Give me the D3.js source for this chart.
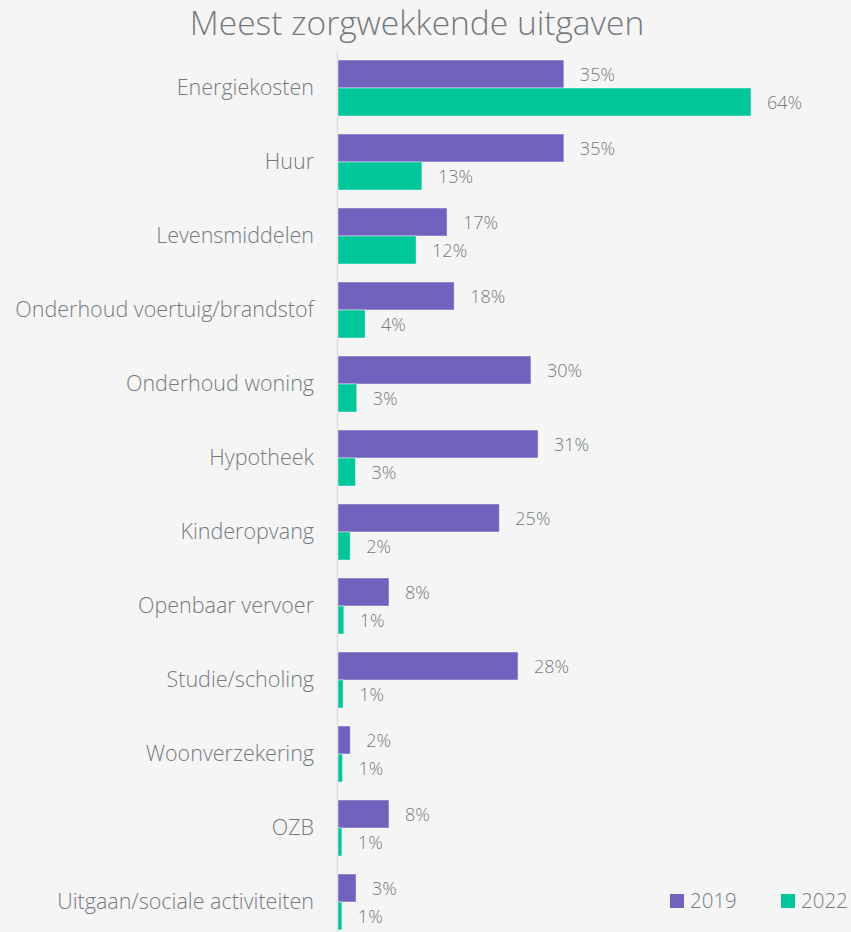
<!DOCTYPE html>
<html>
<head>
<meta charset="utf-8">
<script src="https://cdn.jsdelivr.net/npm/d3@7"></script>
<style>
  body { margin: 0; background: #f5f5f5; }
  text { font-family: "Open Sans", sans-serif; fill: #757a7d; }
</style>
</head>
<body>
<div id="chart"></div>
<script>
"use strict"

const categories = ["Energiekosten", "Huur", "Levensmiddelen", "Onderhoud voertuig/brandstof",
  "Onderhoud woning", "Hypotheek", "Kinderopvang", "Openbaar vervoer", "Studie/scholing",
  "Woonverzekering", "OZB", "Uitgaan/sociale activiteiten"]
const series = ["2019", "2022"]
const values2019 = [35, 35, 17, 18, 30, 31, 25, 8, 28, 2, 8, 3]
const values2022 = [64, 13, 12, 4, 3, 3, 2, 1, 1, 1, 1, 1]
const bars2019 = [35, 35, 16.9, 18, 29.9, 31, 25, 7.9, 27.9, 1.9, 7.9, 2.8]
const bars2022 = [64, 13, 12.1, 4.2, 2.9, 2.7, 1.9, 0.9, 0.8, 0.7, 0.6, 0.6]
const colors = ["#7062bd", "#00c69a"]

const width = 851, height = 932
const margin = {top: 51, left: 338}

const svg = d3.select("#chart")
  .append("svg")
  .attr("width", width)
  .attr("height", height)

svg.append("rect").attr("width", width).attr("height", height).attr("fill", "#f5f5f5")

svg.append("text")
  .attr("x", 417)
  .attr("y", 35)
  .attr("text-anchor", "middle")
  .style("font-size", "33.5px")
  .style("font-weight", 300)
  .text("Meest zorgwekkende uitgaven")

const x = d3.scaleLinear()
  .domain([0, 64])
  .range([margin.left, 751])

const y = d3.scaleBand()
  .domain(categories)
  .range([margin.top, margin.top + 74 * categories.length])
  .paddingInner(18 / 74)
  .paddingOuter(9 / 74)

const sub = d3.scaleBand()
  .domain(series)
  .range([0, y.bandwidth()])

// axis line
svg.append("line")
  .attr("x1", x(0) - 0.5).attr("x2", x(0) - 0.5)
  .attr("y1", 52).attr("y2", height)
  .attr("stroke", "#dcdcdc")
  .attr("stroke-width", 1.5)

const yAxis = svg.append("g")
  .attr("transform", "translate(" + (x(0) - 24) + ",0)")
  .call(d3.axisLeft(y).tickSize(0).tickPadding(0))
yAxis.select(".domain").remove()
yAxis.selectAll("text")
  .style("font-size", "21.5px")
  .style("font-weight", 300)
  .attr("fill", "#757a7d")

const groups = [
  {name: "2019", bars: bars2019, labels: values2019, color: colors[0]},
  {name: "2022", bars: bars2022, labels: values2022, color: colors[1]}
]

groups.forEach(gr => {
  svg.append("g")
    .selectAll("rect")
    .data(categories)
    .join("rect")
      .attr("x", x(0))
      .attr("y", c => y(c) + sub(gr.name))
      .attr("width", (c, i) => x(gr.bars[i]) - x(0))
      .attr("height", sub.bandwidth())
      .attr("fill", gr.color)
      .attr("stroke", "rgba(255,255,255,0.45)")
      .attr("stroke-width", 1)

  svg.append("g")
    .selectAll("text")
    .data(categories)
    .join("text")
      .attr("x", (c, i) => x(gr.bars[i]) + 16)
      .attr("y", c => y(c) + sub(gr.name) + sub.bandwidth() / 2 + 1)
      .attr("dy", "0.35em")
      .style("font-size", "18px")
      .style("font-weight", 300)
      .text((c, i) => gr.labels[i] + "%")
})

// legend
const legend = svg.append("g")
  .selectAll("g")
  .data(groups)
  .join("g")
    .attr("transform", (d, i) => "translate(" + (670 + i * 111) + ",894)")
legend.append("rect")
  .attr("width", 14).attr("height", 14)
  .attr("fill", d => d.color)
legend.append("text")
  .attr("x", 20).attr("y", 7)
  .attr("dy", "0.35em")
  .style("font-size", "20.5px")
  .style("font-weight", 300)
  .text(d => d.name)
</script>
</body>
</html>
